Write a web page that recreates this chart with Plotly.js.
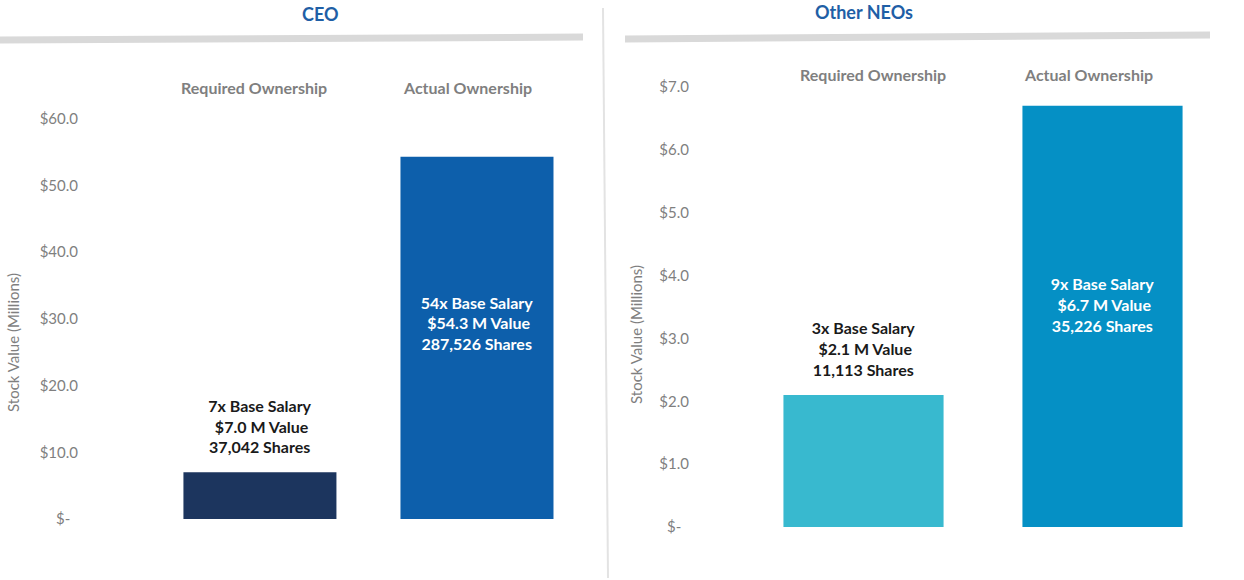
<!DOCTYPE html>
<html>
<head>
<meta charset="utf-8">
<script src="https://cdn.plot.ly/plotly-3.0.1.min.js"></script>
<style>
  html, body { margin: 0; padding: 0; background: #ffffff; }
  #chart { width: 1244px; height: 580px; }
</style>
</head>
<body>
<div id="chart"></div>
<script>
// ---- Data ----
const categories = ["Required Ownership", "Actual Ownership"];

const ceoValues = [7.0, 54.3];          // $ millions
const ceoMultiples = [7, 54];           // x base salary
const ceoShares = [37042, 287526];

const neoValues = [2.1, 6.7];           // $ millions
const neoMultiples = [3, 9];
const neoShares = [11113, 35226];

const ceoTickVals = [0, 10, 20, 30, 40, 50, 60];
const ceoTickText = ["$-\u00a0\u00a0", "$10.0", "$20.0", "$30.0", "$40.0", "$50.0", "$60.0"];
const neoTickVals = [0, 1, 2, 3, 4, 5, 6, 7];
const neoTickText = ["$-\u00a0\u00a0", "$1.0", "$2.0", "$3.0", "$4.0", "$5.0", "$6.0", "$7.0"];

const panelTitles = ["CEO", "Other NEOs"];
const yTitle = "Stock Value (Millions)";

// ---- Helpers ----
function fmtShares(n) { return n.toString().replace(/\B(?=(\d{3})+(?!\d))/g, ","); }
function labels(mults, vals, shares) {
  return vals.map((v, i) =>
    mults[i] + "x Base Salary<br>\u00a0$" + v.toFixed(1) + " M Value<br>" + fmtShares(shares[i]) + " Shares");
}

const W = 1244, H = 580;
const px = x => x / W;
const py = y => (H - y) / H;

const FONT = "Lato, 'Open Sans', sans-serif";
const GRAY = "#7f7f7f";

const ceoText = labels(ceoMultiples, ceoValues, ceoShares);
const neoText = labels(neoMultiples, neoValues, neoShares);

const barFontDark = { family: FONT, size: 16, color: "#1a1a1a", weight: "bold" };
const barFontLight = { family: FONT, size: 16, color: "#ffffff", weight: "bold" };

const traces = [
  { type: "bar", x: [categories[0]], y: [ceoValues[0]], text: [ceoText[0]],
    xaxis: "x", yaxis: "y", width: 0.705,
    marker: { color: "#1c355e" }, textposition: "outside", textfont: barFontDark,
    constraintext: "none", cliponaxis: false, hoverinfo: "none", showlegend: false },
  { type: "bar", x: [categories[1]], y: [ceoValues[1]], text: [ceoText[1]],
    xaxis: "x", yaxis: "y", width: 0.705,
    marker: { color: "#0d5fab" }, textposition: "inside", insidetextanchor: "middle", textfont: barFontLight,
    constraintext: "none", cliponaxis: false, hoverinfo: "none", showlegend: false },
  { type: "bar", x: [categories[0]], y: [neoValues[0]], text: [neoText[0]],
    xaxis: "x2", yaxis: "y2", width: 0.67,
    marker: { color: "#38b9cf" }, textposition: "outside", textfont: barFontDark,
    constraintext: "none", cliponaxis: false, hoverinfo: "none", showlegend: false },
  { type: "bar", x: [categories[1]], y: [neoValues[1]], text: [neoText[1]],
    xaxis: "x2", yaxis: "y2", width: 0.67,
    marker: { color: "#0590c5" }, textposition: "inside", insidetextanchor: "middle", textfont: barFontLight,
    constraintext: "none", cliponaxis: false, hoverinfo: "none", showlegend: false }
];

const tickFont = { family: FONT, size: 15, color: GRAY };
const headFont = { family: FONT, size: 16, color: GRAY, weight: "bold" };
const titleFont = { family: FONT, size: 18, color: "#1f5fa6", weight: "bold" };

const layout = {
  width: W, height: H,
  margin: { l: 0, r: 0, t: 0, b: 0 },
  paper_bgcolor: "#ffffff", plot_bgcolor: "rgba(0,0,0,0)",
  barmode: "overlay",
  font: { family: FONT },
  xaxis: {
    domain: [px(85), px(585.5)], anchor: "y",
    type: "category", categoryarray: categories, range: [-0.806, 1.5],
    showticklabels: false, showgrid: false, zeroline: false, showline: false, ticks: ""
  },
  yaxis: {
    domain: [py(519), py(85.5)], anchor: "x",
    range: [0, 65], tickvals: ceoTickVals, ticktext: ceoTickText,
    tickfont: tickFont, showgrid: false, zeroline: false, showline: false, ticks: "",
    ticklabelstandoff: 6
  },
  xaxis2: {
    domain: [px(692), px(1222)], anchor: "y2",
    type: "category", categoryarray: categories, range: [-0.7176, 1.5],
    showticklabels: false, showgrid: false, zeroline: false, showline: false, ticks: ""
  },
  yaxis2: {
    domain: [py(527), py(68.1)], anchor: "x2",
    range: [0, 7.3], tickvals: neoTickVals, ticktext: neoTickText,
    tickfont: tickFont, showgrid: false, zeroline: false, showline: false, ticks: "",
    ticklabelstandoff: 2
  },
  annotations: [
    { text: panelTitles[0], xref: "paper", yref: "paper", x: px(300), y: py(14), yanchor: "middle",
      showarrow: false, font: titleFont },
    { text: panelTitles[1], xref: "paper", yref: "paper", x: px(915), y: py(12), yanchor: "middle",
      showarrow: false, font: titleFont },
    { text: categories[0], xref: "x", yref: "paper", x: 0, y: py(87), xshift: -6, yanchor: "middle",
      showarrow: false, font: headFont },
    { text: categories[1], xref: "x", yref: "paper", x: 1, y: py(87), xshift: -9, yanchor: "middle",
      showarrow: false, font: headFont },
    { text: categories[0], xref: "x2", yref: "paper", x: 0, y: py(74), xshift: 9, yanchor: "middle",
      showarrow: false, font: headFont },
    { text: categories[1], xref: "x2", yref: "paper", x: 1, y: py(74), xshift: -14, yanchor: "middle",
      showarrow: false, font: headFont },
    { text: yTitle, xref: "paper", yref: "paper", x: px(13), y: py(343), textangle: -90,
      xanchor: "center", yanchor: "middle",
      showarrow: false, font: { family: FONT, size: 15, color: GRAY } },
    { text: yTitle, xref: "paper", yref: "paper", x: px(636), y: py(335), textangle: -90,
      xanchor: "center", yanchor: "middle",
      showarrow: false, font: { family: FONT, size: 15, color: GRAY } }
  ],
  shapes: [
    { type: "line", xref: "paper", yref: "paper", x0: px(0), y0: py(40), x1: px(583), y1: py(37),
      line: { color: "#d9d9d9", width: 7 } },
    { type: "line", xref: "paper", yref: "paper", x0: px(625), y0: py(39), x1: px(1210), y1: py(35),
      line: { color: "#d9d9d9", width: 7 } },
    { type: "line", xref: "paper", yref: "paper", x0: px(603), y0: py(8), x1: px(608), y1: py(578),
      line: { color: "#e3e3e3", width: 2 } }
  ]
};

// vertical nudges (px) for each bar label, to match the reference's label placement
const labelNudge = [
  { prefix: ceoMultiples[0] + "x Base", dy: -13 },
  { prefix: ceoMultiples[1] + "x Base", dy: -15 },
  { prefix: neoMultiples[0] + "x Base", dy: -13 },
  { prefix: neoMultiples[1] + "x Base", dy: -12 }
];

Plotly.newPlot("chart", traces, layout, { staticPlot: true, displayModeBar: false }).then(gd => {
  gd.querySelectorAll("text.bartext").forEach(t => {
    const s = t.textContent || "";
    const n = labelNudge.find(o => s.startsWith(o.prefix));
    if (n) {
      const tr = t.getAttribute("transform") || "";
      t.setAttribute("transform", "translate(0," + n.dy + ") " + tr);
    }
  });
});
</script>
</body>
</html>
